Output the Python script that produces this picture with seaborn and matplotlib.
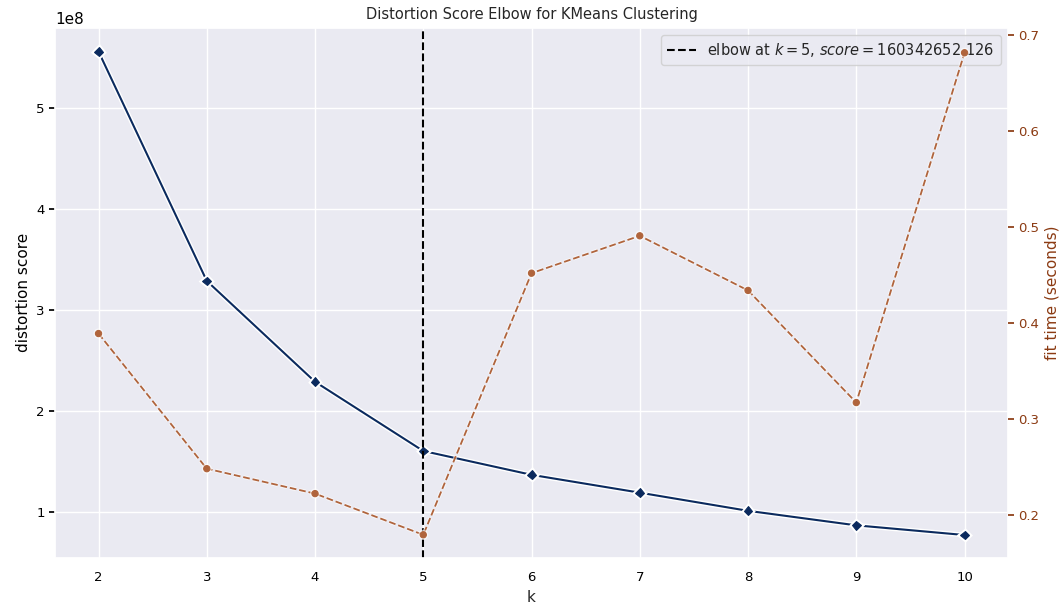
import matplotlib
matplotlib.use("Agg")
import matplotlib.pyplot as plt
import matplotlib.patheffects as pe
import seaborn as sns
import pandas as pd

# ---------- DATA ----------
k_values = [2, 3, 4, 5, 6, 7, 8, 9, 10]
distortion = [5.565e8, 3.29e8, 2.29e8, 160342652.126, 1.367e8, 1.19e8, 1.01e8, 0.866e8, 0.77e8]
fit_time = [0.389, 0.248, 0.222, 0.179, 0.452, 0.491, 0.434, 0.317, 0.682]
elbow_k = 5
elbow_score = 160342652.126

df = pd.DataFrame({"k": k_values, "distortion": distortion, "fit_time": fit_time})

# ---------- STYLE ----------
sns.set_theme(style="darkgrid")
plt.rcParams["font.family"] = ["DejaVu Sans"]

navy = "#0b2a5e"
brown = "#b0643c"
brown_txt = "#8b3a12"
halo = [pe.Stroke(linewidth=3.5, foreground="white"), pe.Normal()]

fig, ax = plt.subplots(figsize=(10.62, 6.05), dpi=100)
fig.subplots_adjust(left=0.052, right=0.949, bottom=0.078, top=0.954)

# distortion curve
sns.lineplot(data=df, x="k", y="distortion", ax=ax, color=navy, marker="D",
             markersize=4.5, markeredgecolor=navy, linewidth=1.5, path_effects=halo)
ax.axvline(elbow_k, color="black", linestyle="--", linewidth=1.5,
           label=f"elbow at $k={elbow_k}$, $score={elbow_score:0.3f}$")

ax.set_title("Distortion Score Elbow for KMeans Clustering", fontsize=10.5)
ax.set_xlabel("k", fontsize=11)
ax.set_ylabel("distortion score", fontsize=11, color="black")
ax.set_xlim(1.6, 10.4)
ax.set_ylim(0.544e8, 5.80e8)
ax.set_xticks(k_values)
ax.tick_params(axis="both", labelsize=9.5, labelcolor="black")
ax.tick_params(axis="y", left=True, length=4, color="black")
ax.legend(loc="upper right", frameon=True, fontsize=10.5)

# fit time on twin axis
ax2 = ax.twinx()
sns.lineplot(data=df, x="k", y="fit_time", ax=ax2, color=brown, marker="o",
             markersize=4.5, markeredgecolor=brown, linestyle="--", linewidth=1.3,
             path_effects=[pe.Stroke(linewidth=2.8, foreground="white", alpha=0.6), pe.Normal()])
ax2.grid(False)
ax2.set_ylim(0.155, 0.708)
ax2.set_ylabel("fit time (seconds)", color=brown_txt, fontsize=11)
ax2.tick_params(axis="y", colors=brown_txt, labelsize=9.5, right=True, length=4)
for s in ax2.spines.values():
    s.set_visible(False)

fig.savefig("out.png", dpi=100)
